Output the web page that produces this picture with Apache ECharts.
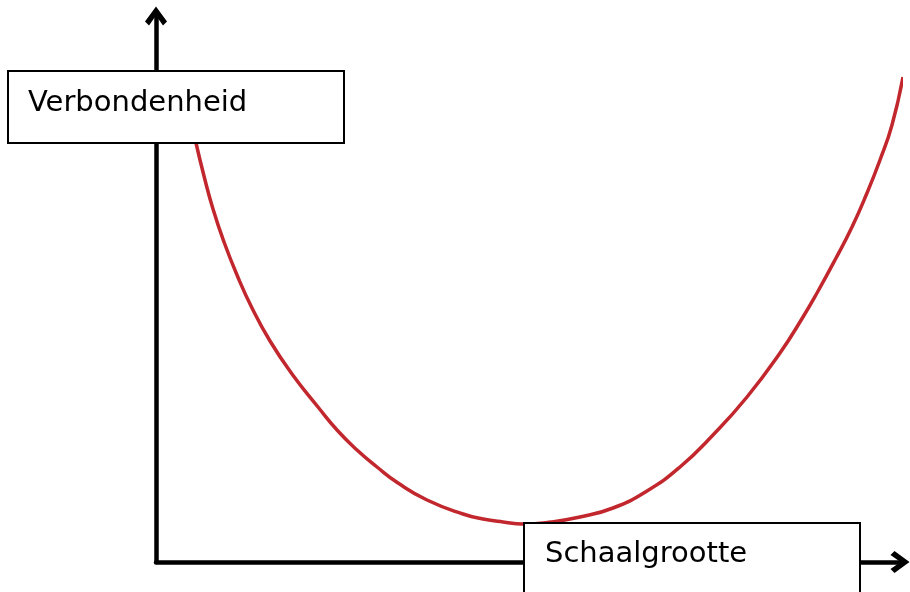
<!DOCTYPE html>
<html>
<head>
<meta charset="utf-8">
<script src="https://cdn.jsdelivr.net/npm/echarts@6/dist/echarts.min.js"></script>
<style>
  html, body { margin: 0; padding: 0; background: #fff; }
  #chart { width: 910px; height: 592px; }
</style>
</head>
<body>
<div id="chart"></div>
<script>
// curve (x = schaalgrootte, y = verbondenheid, arbitrary units)
var schaalgrootte = [40, 48, 57, 68, 81, 96, 114, 136, 162, 181, 201, 221, 242, 271, 307, 327, 347, 367,
  395, 424, 457, 491, 524, 557, 591, 624, 647, 661, 679, 696, 711, 724, 736, 747];
var verbondenheid = [419, 386, 353, 320, 287, 254, 221, 188, 155, 132, 112, 95, 79, 62, 48, 43, 40, 38,
  40, 45, 54, 71, 95, 127, 165, 209, 245, 269, 302, 335, 369, 402, 437, 485];
var xLabel = "Schaalgrootte";
var yLabel = "Verbondenheid";

var chart = echarts.init(document.getElementById("chart"));

var points = schaalgrootte.map(function (x, i) {
  return [x, verbondenheid[i]];
});

// open chevron arrow for the axis ends
var chevron = "path://M11,0 L22,15 L18,19 L11,9 L4,19 L0,15 Z";

var axisCommon = {
  type: "value",
  axisLine: {
    show: true,
    symbol: ["none", chevron],
    symbolSize: [22, 20],
    lineStyle: { color: "#000", width: 4.5 },
  },
  axisTick: { show: false },
  axisLabel: { show: false },
  splitLine: { show: false },
};

var boxStyle = { fill: "#fff", stroke: "#000", lineWidth: 2 };
var labelFont = "29px 'DejaVu Sans'";

var option = {
  backgroundColor: "#fff",
  animation: false,
  grid: { left: 156, right: 10, top: 16, bottom: 30 },
  xAxis: Object.assign({}, axisCommon, { min: 0, max: 744 }),
  yAxis: Object.assign({}, axisCommon, { min: 0, max: 546 }),
  series: [
    {
      type: "line",
      data: points,
      smooth: 0.5,
      showSymbol: false,
      clip: false,
      z: 3,
      lineStyle: { color: "#c1272d", width: 3.5 },
    },
  ],
  graphic: [
    {
      type: "rect",
      z: 100,
      shape: { x: 8, y: 71, width: 336, height: 72 },
      style: boxStyle,
    },
    {
      type: "text",
      z: 101,
      x: 28,
      y: 103,
      style: { text: yLabel, fill: "#000", font: labelFont, verticalAlign: "middle" },
    },
    {
      type: "rect",
      z: 100,
      shape: { x: 524, y: 523, width: 336, height: 80 },
      style: boxStyle,
    },
    {
      type: "text",
      z: 101,
      x: 545,
      y: 554,
      style: { text: xLabel, fill: "#000", font: labelFont, verticalAlign: "middle" },
    },
  ],
};

chart.setOption(option);
</script>
</body>
</html>
